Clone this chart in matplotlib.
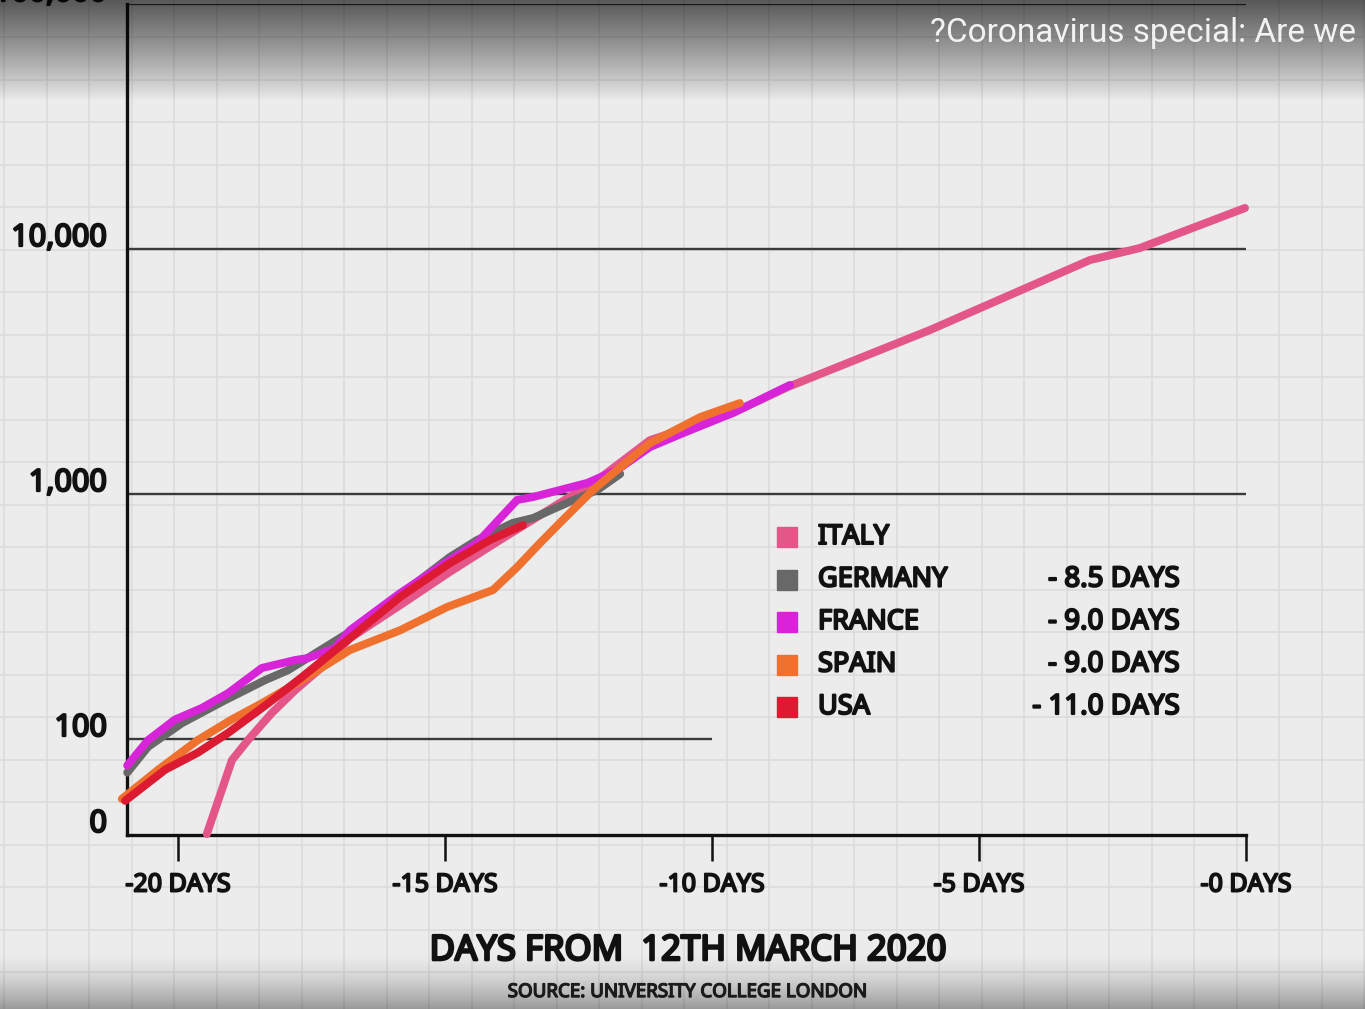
import numpy as np
import matplotlib
matplotlib.use("Agg")
import matplotlib.pyplot as plt
import matplotlib.patheffects as pe
from matplotlib.ticker import NullLocator

# ---------------- data ----------------
italy_days = [-19.46, -18.99, -18.69, -18.24, -17.81, -17.30, -16.78, -15.84, -14.91,
              -13.97, -12.10, -11.16, -9.61, -8.58, -5.92, -2.92, -1.99, -0.02]
italy_cases = [41, 82, 99, 128, 158, 197, 258, 352, 481, 649, 1161, 1660, 2143, 2735,
               4670, 9020, 10090, 14700]

germany_days = [-20.95, -20.56, -19.93, -19.12, -18.37, -17.94, -16.78, -15.84, -14.91,
                -14.40, -13.73, -13.35, -12.72, -12.15, -11.72]
germany_cases = [73, 93, 116, 144, 174, 191, 274, 387, 553, 649, 762, 798, 919, 1038, 1208]

france_days = [-20.95, -20.56, -20.06, -19.55, -19.06, -18.43, -17.81, -17.57, -17.06,
               -16.78, -15.84, -14.91, -14.40, -13.65, -13.35, -12.85, -12.34, -11.78,
               -11.16, -10.54, -9.61, -8.54]
france_cases = [78, 99, 120, 134, 154, 195, 210, 214, 235, 278, 394, 538, 631, 946, 973,
                1038, 1109, 1253, 1556, 1774, 2143, 2786]

spain_days = [-21.05, -20.37, -19.63, -19.00, -18.43, -17.68, -16.78, -15.84, -14.96,
              -14.10, -13.65, -13.22, -12.85, -12.23, -11.78, -11.16, -10.22, -9.48]
spain_cases = [57, 75, 99, 120, 140, 174, 231, 278, 346, 406, 503, 631, 762, 1038, 1253,
               1614, 2061, 2350]

usa_days = [-20.99, -20.24, -19.63, -19.06, -18.31, -17.68, -16.82, -15.84, -14.91,
            -14.16, -13.54]
usa_cases = [56, 75, 88, 106, 140, 179, 254, 380, 522, 649, 747]

countries = ["ITALY", "GERMANY", "FRANCE", "SPAIN", "USA"]
doubling = ["", "- 8.5 DAYS", "- 9.0 DAYS", "- 9.0 DAYS", "- 11.0 DAYS"]
colors = ["#e4568a", "#686868", "#d824d8", "#f0702e", "#dc1a32"]

x_ticks = [-20, -15, -10, -5, 0]
x_tick_labels = ["-20 DAYS", "-15 DAYS", "-10 DAYS", "-5 DAYS", "-0 DAYS"]
y_levels = [100000, 10000, 1000, 100]
y_level_labels = ["100,000", "10,000", "1,000", "100"]
y_floor = 40.6
y_floor_label = "0"

title = "DAYS FROM  12TH MARCH 2020"
source = "SOURCE: UNIVERSITY COLLEGE LONDON"
overlay = "?Coronavirus special: Are we"

# ---------------- figure ----------------
W, H = 1365, 1009
fig = plt.figure(figsize=(W / 100, H / 100), dpi=100)
fig.patch.set_facecolor("#ececec")

INK = "#111111"
FONT = dict(family=["Noto Sans", "DejaVu Sans"], stretch="condensed", weight="bold")


def heavy(color=INK, w=1.5):
    return [pe.withStroke(linewidth=w, foreground=color)]


# graph-paper background
bg = fig.add_axes([0, 0, 1, 1], zorder=0)
bg.set_xlim(0, W)
bg.set_ylim(H, 0)
bg.axis("off")
for gx in np.arange(4, W, 42.5):
    bg.axvline(gx, color="#dbdbdb", lw=1.1)
for gy in np.arange(37, H, 42.5):
    bg.axhline(gy, color="#dbdbdb", lw=1.1)

# main axes
ax = fig.add_axes([127 / W, 174 / H, 1119 / W, 831 / H], zorder=2)
ax.patch.set_alpha(0)
ax.set_yscale("log")
ax.set_xlim(-20.955, 0)
ax.set_ylim(y_floor, 1e5)

ax.yaxis.set_major_locator(NullLocator())
ax.yaxis.set_minor_locator(NullLocator())

for s in ["top", "right"]:
    ax.spines[s].set_visible(False)
for s in ["left", "bottom"]:
    ax.spines[s].set_linewidth(2.4)
    ax.spines[s].set_color(INK)

# horizontal reference lines
ax.hlines([100000, 10000, 1000], -20.955, 0, color="#3a3a3a", lw=1.7, zorder=1)
ax.hlines([100], -20.955, -10, color="#3a3a3a", lw=1.7, zorder=1)

# series
series = [
    (italy_days, italy_cases),
    (germany_days, germany_cases),
    (france_days, france_cases),
    (spain_days, spain_cases),
    (usa_days, usa_cases),
]
for i, ((d, c), col) in enumerate(zip(series, colors)):
    ax.plot(d, c, color=col, lw=5.8, solid_capstyle="round", solid_joinstyle="round",
            zorder=3 + i, clip_on=False)

# x ticks
ax.set_xticks(x_ticks)
ax.set_xticklabels(x_tick_labels, fontsize=18, color=INK, **FONT)
for t in ax.get_xticklabels():
    t.set_path_effects(heavy(w=1.4))
ax.tick_params(axis="x", length=19, width=1.8, direction="out", pad=8, colors=INK)

# y labels
for v, lab in zip(y_levels + [y_floor], y_level_labels + [y_floor_label]):
    ax.annotate(lab, xy=(0, v), xycoords=("axes fraction", "data"),
                xytext=(-20, 11), textcoords="offset pixels",
                ha="right", va="center", fontsize=22, color=INK,
                annotation_clip=False, path_effects=heavy(w=1.6), **FONT)

# legend
lx_sq = (787 - 127) / 1119
lx_name = (818 - 127) / 1119
lx_val = (1180 - 127) / 1119
for k, (name, val, col) in enumerate(zip(countries, doubling, colors)):
    yy = (835 - 537 - 42.5 * k) / 831
    ax.plot([lx_sq], [yy], marker="s", ms=14, color=col, transform=ax.transAxes,
            clip_on=False, zorder=10)
    ax.text(lx_name, yy, name, transform=ax.transAxes, ha="left", va="center",
            fontsize=19.5, color=INK, path_effects=heavy(w=1.5), **FONT)
    if val:
        ax.text(lx_val, yy, val, transform=ax.transAxes, ha="right", va="center",
                fontsize=20, color=INK, path_effects=heavy(w=1.5), **FONT)

fig.text(688 / W, 1 - 951 / H, title, ha="center", va="center", fontsize=25,
         color=INK, path_effects=heavy(w=1.9), **FONT)
fig.text(688 / W, 1 - 992 / H, source, ha="center", va="center", fontsize=13.5,
         color="#222222", path_effects=heavy("#222222", w=1.0), **FONT)

# video overlay gradients
ov = fig.add_axes([0, 0, 1, 1], zorder=20)
ov.set_xlim(0, W)
ov.set_ylim(H, 0)
ov.axis("off")
yy = np.arange(H, dtype=float)
alpha = np.zeros(H)
top = yy < 100
alpha[top] = 0.63 * (1 - yy[top] / 100.0) ** 0.9
bot = yy > 950
alpha[bot] = 0.36 * ((yy[bot] - 950) / 59.0) ** 1.6
img = np.zeros((H, 1, 4))
img[:, 0, 3] = alpha
ov.imshow(img, extent=[0, W, H, 0], aspect="auto", interpolation="bilinear")
ov.text(930, 33, overlay, ha="left", va="center", fontsize=24, color="#f2f2f2",
        fontfamily=["Roboto", "DejaVu Sans"])

fig.savefig("out.png", dpi=100)
